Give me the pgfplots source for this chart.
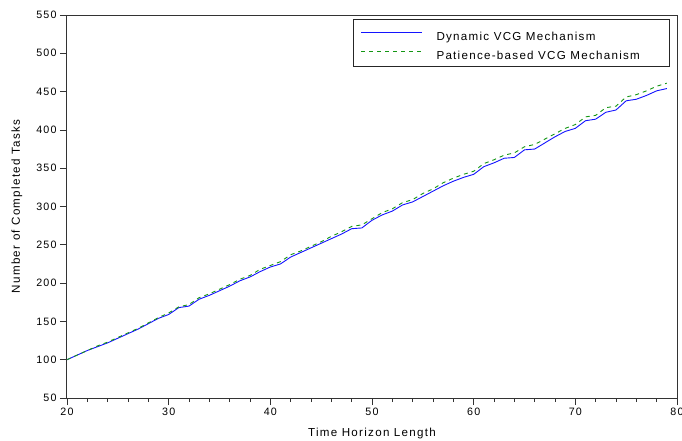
\documentclass[border=0pt]{standalone}
\usepackage{fontspec}
\setmainfont{Liberation Sans}[LetterSpace=11]
\usepackage{pgfplots}
\pgfplotsset{compat=1.18}
\definecolor{vblue}{RGB}{20,20,255}
\definecolor{vgreen}{RGB}{20,150,20}
\begin{document}
\begin{tikzpicture}
\begin{axis}[
  at={(0,0)}, anchor=south west,
  scale only axis, width=610bp, height=383bp,
  xmin=20, xmax=80, ymin=50, ymax=550,
  xtick={20,30,...,80}, ytick={50,100,...,550},
  minor x tick num=4,
  tick align=outside, xtick pos=bottom, ytick pos=left,
  major tick length=7bp, minor tick length=4bp,
  axis line style={line width=1bp, black!80},
  every tick/.style={line width=0.8bp, black!80},
  /pgf/number format/assume math mode=true,
  tick label style={font=\fontsize{10.7bp}{12bp}\selectfont},
  label style={font=\fontsize{11.6bp}{13bp}\selectfont},
  xlabel={Time Horizon Length},
  ylabel={Number of Completed Tasks},
  xlabel style={at={(axis description cs:0.5,-0.1005)}, anchor=base},
  ylabel style={at={(axis description cs:-0.082,0.5)}, anchor=center},
  legend style={at={(1,1)}, anchor=north east, xshift=-7bp, yshift=-4bp,
    draw=black!85, line width=1bp, inner xsep=0pt, inner ysep=2bp,
    font=\fontsize{11.6bp}{13bp}\selectfont,
    nodes={inner sep=0pt, text height=19bp, text depth=5bp}, row sep=-5bp},
  legend cell align=left,
  legend image code/.code={\path (0bp,0bp) (82bp,0bp); \draw[#1, line width=0.9bp] (7bp,1.3bp) -- (68bp,1.3bp);},
]
\addplot[vblue, line width=0.9bp] coordinates {
(20,100)(21,106)(22,112)(23,117)(24,122)(25,128)(26,134)(27,140)(28,147)(29,154)
(30,159)(31,168)(32,170)(33,179)(34,184)(35,190)(36,196)(37,203)(38,208)(39,215)
(40,221)(41,225)(42,234)(43,240)(44,246)(45,252)(46,258)(47,264)(48,271)(49,272)
(50,282)(51,289)(52,294)(53,302)(54,306)(55,313)(56,320)(57,327)(58,333)(59,338)
(60,342)(61,352)(62,357)(63,363)(64,364)(65,374)(66,375)(67,383)(68,391)(69,398)
(70,402)(71,412)(72,414)(73,423)(74,426)(75,438)(76,440)(77,445)(78,451)(79,454)
};
\addlegendentry{\makebox[233bp][l]{Dynamic VCG Mechanism}}
\addplot[vgreen, line width=0.9bp, dash pattern=on 4bp off 4bp] coordinates {
(20,100)(21,106)(22,112)(23,118)(24,123)(25,129)(26,135)(27,141)(28,148)(29,155)
(30,161)(31,169)(32,172)(33,181)(34,186)(35,192)(36,198)(37,205)(38,210)(39,218)
(40,223)(41,228)(42,237)(43,242)(44,248)(45,254)(46,261)(47,267)(48,274)(49,276)
(50,284)(51,292)(52,297)(53,305)(54,309)(55,317)(56,323)(57,331)(58,337)(59,342)
(60,346)(61,356)(62,361)(63,367)(64,370)(65,378)(66,381)(67,388)(68,395)(69,402)
(70,407)(71,417)(72,419)(73,429)(74,431)(75,443)(76,446)(77,451)(78,457)(79,461)
};
\addlegendentry{\makebox[233bp][l]{Patience-based VCG Mechanism}}
\end{axis}
\pgfresetboundingbox
\path (-67bp,-43bp) rectangle (615bp,398bp);
\end{tikzpicture}
\end{document}
